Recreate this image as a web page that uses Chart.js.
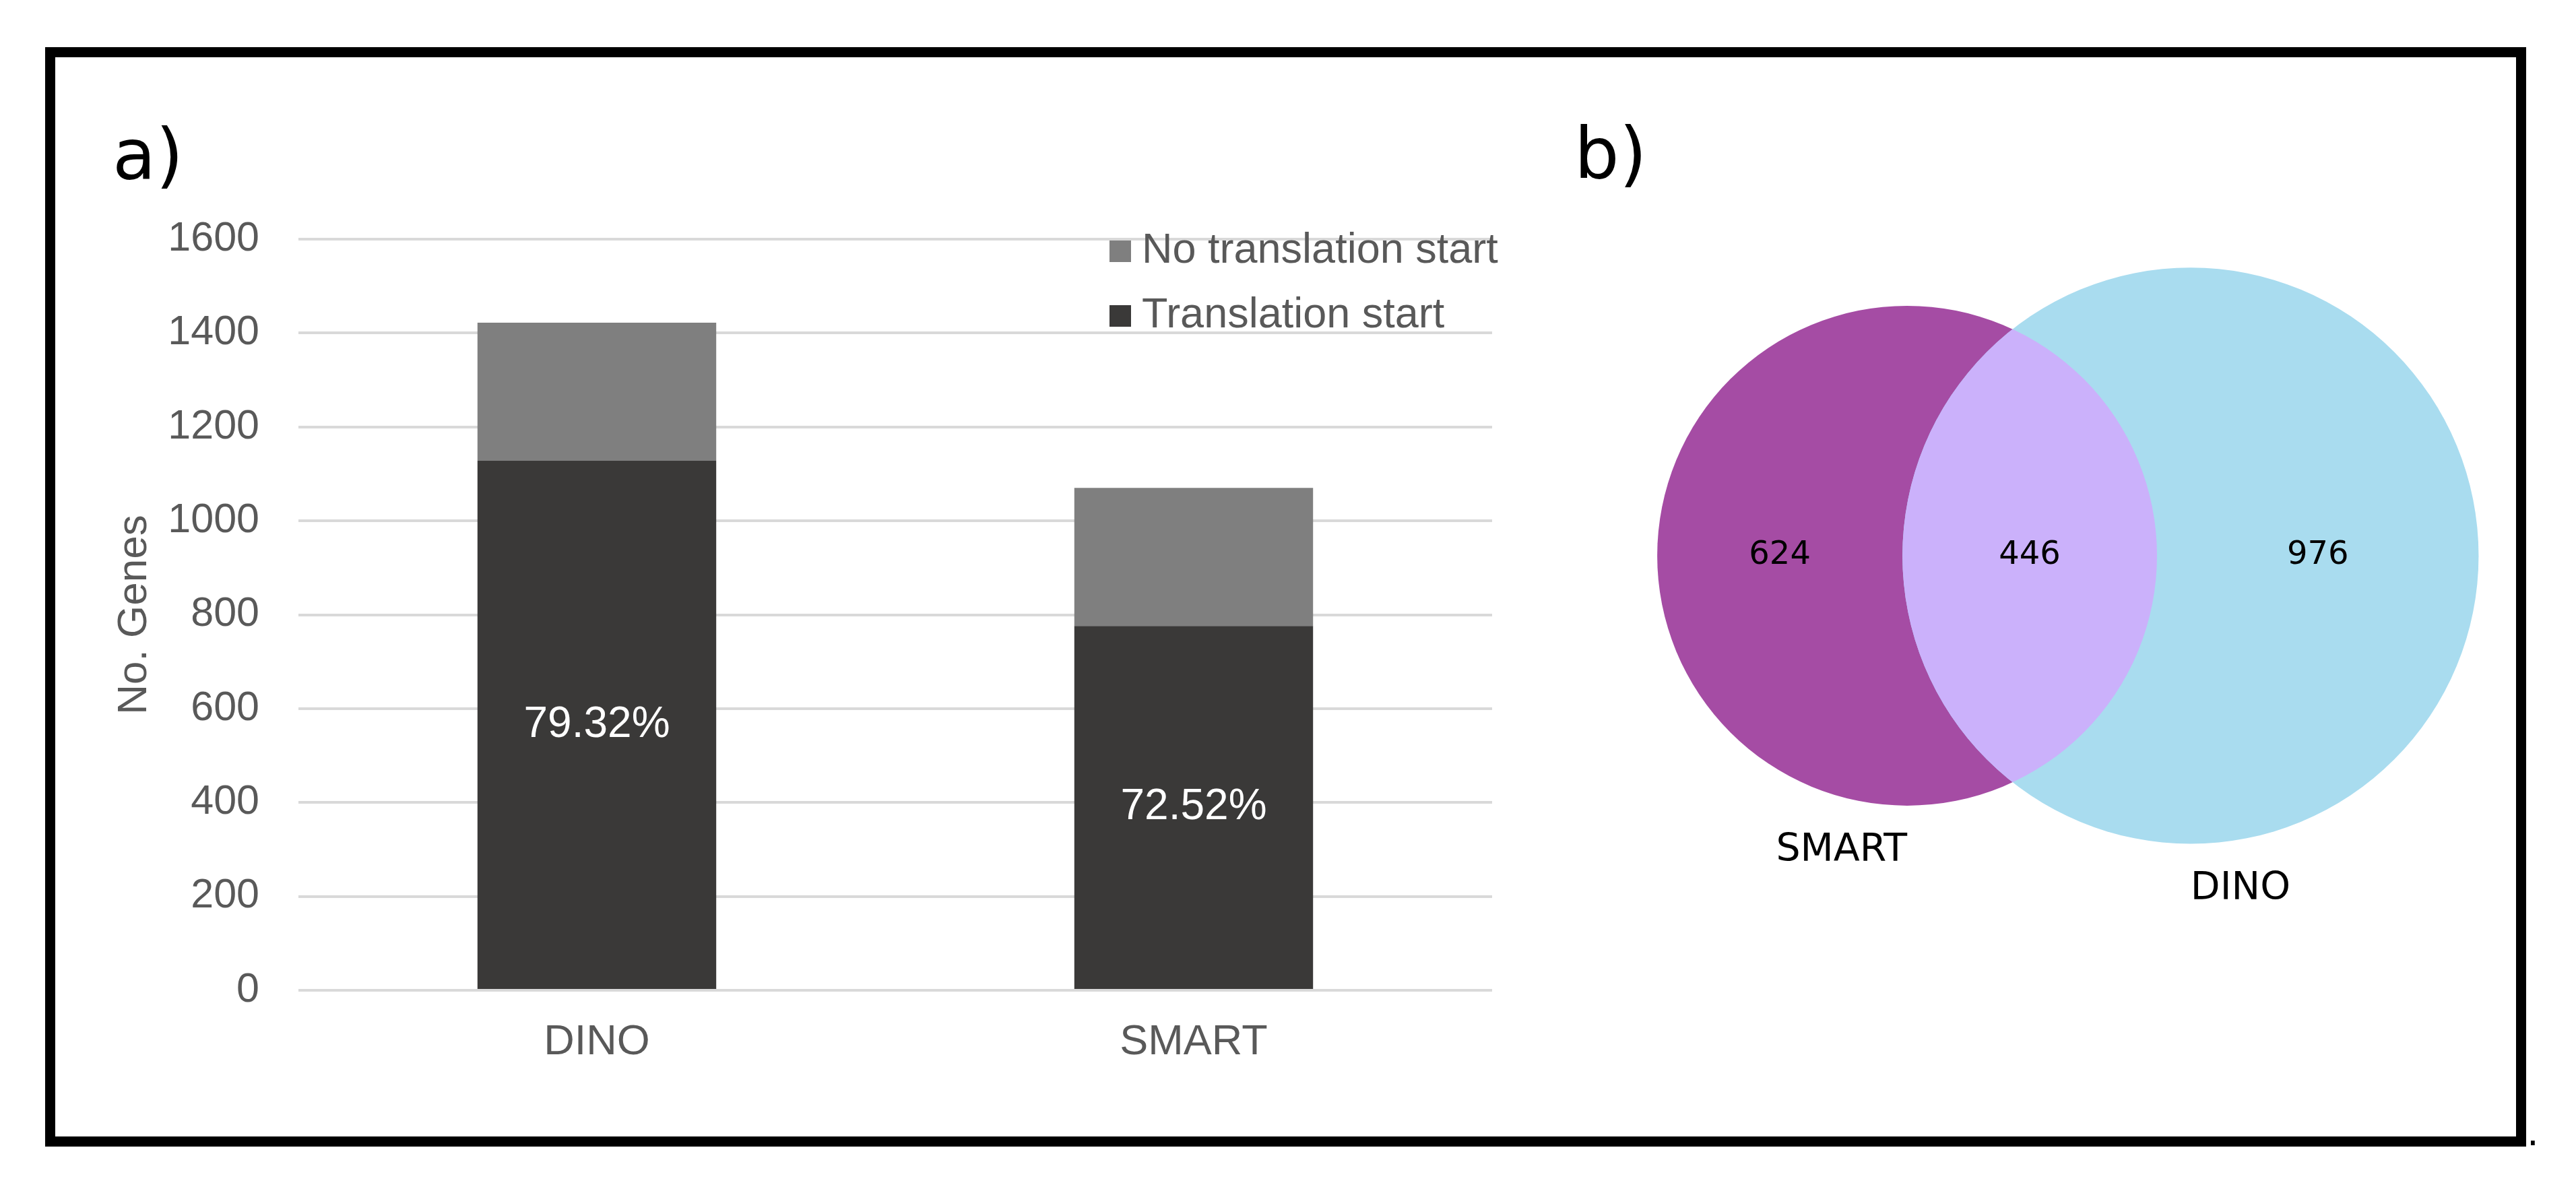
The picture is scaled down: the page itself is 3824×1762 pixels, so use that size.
<!DOCTYPE html>
<html>
<head>
<meta charset="utf-8">
<script src="https://cdn.jsdelivr.net/npm/chart.js@4.4.1/dist/chart.umd.min.js"></script>
<style>
  html, body { margin: 0; padding: 0; background: #fff; }
  body { width: 3824px; height: 1762px; position: relative; overflow: hidden; }
  #frame { position: absolute; left: 67px; top: 70px; width: 3683px; height: 1632px; border: 15px solid #000; box-sizing: border-box; }
  .panel { position: absolute; font-family: 'DejaVu Sans'; font-size: 105px; line-height: 1; color: #000; }
  canvas { position: absolute; top: 0; }
</style>
</head>
<body>
<div id="frame"></div>
<div class="panel" style="left:167px; top:178px;">a)</div>
<div class="panel" style="left:2337px; top:176px;">b)</div>
<div class="panel" style="left:3751px; top:1653px; font-size:56px;">.</div>
<canvas id="barChart" width="2300" height="1762" style="left:0px"></canvas>
<canvas id="vennChart" width="1440" height="1762" style="left:2300px"></canvas>
<script>
// Panel a) - genes with / without a translation start
const categories = ['DINO', 'SMART'];
const translationStart = [1128, 776];
const noTranslationStart = [294, 294];
const yTicks = [0, 200, 400, 600, 800, 1000, 1200, 1400, 1600];

// Panel b) - overlap of the two gene sets
const vennSetNames = ['SMART', 'DINO'];
const vennRegions = ['SMART only', 'SMART and DINO', 'DINO only'];
const vennCounts = [624, 446, 976];

const axisFont = '"Liberation Sans", Arial, sans-serif';
const greyText = '#595959';

// white percentage inside the dark part of each bar
const barLabels = {
    id: 'barLabels',
    afterDatasetsDraw(chart) {
        const ctx = chart.ctx;
        const meta = chart.getDatasetMeta(0);
        ctx.save();
        ctx.font = '64px ' + axisFont;
        ctx.fillStyle = '#ffffff';
        ctx.textAlign = 'center';
        ctx.textBaseline = 'middle';
        meta.data.forEach((bar, i) => {
            const total = translationStart[i] + noTranslationStart[i];
            const pct = (translationStart[i] / total * 100).toFixed(2) + '%';
            ctx.fillText(pct, bar.x, (bar.y + bar.base) / 2);
        });
        ctx.restore();
    }
};

// Excel-style legend, stacked top to bottom in reverse order
const sideLegend = {
    id: 'sideLegend',
    afterDraw(chart) {
        const ctx = chart.ctx;
        const sets = chart.data.datasets.slice().reverse();
        ctx.save();
        ctx.font = '63px ' + axisFont;
        ctx.textBaseline = 'alphabetic';
        ctx.textAlign = 'left';
        sets.forEach((ds, i) => {
            const top = 357 + i * 96;
            ctx.fillStyle = ds.backgroundColor;
            ctx.fillRect(1647, top, 32, 32);
            ctx.fillStyle = greyText;
            ctx.fillText(ds.label, 1695, top + 33);
        });
        ctx.restore();
    }
};

new Chart(document.getElementById('barChart'), {
    type: 'bar',
    data: {
        labels: categories,
        datasets: [
            {
                label: 'Translation start',
                data: translationStart,
                backgroundColor: '#3a3938',
                barPercentage: 0.4,
                categoryPercentage: 1.0
            },
            {
                label: 'No translation start',
                data: noTranslationStart,
                backgroundColor: '#7f7f7f',
                barPercentage: 0.4,
                categoryPercentage: 1.0
            }
        ]
    },
    options: {
        responsive: false,
        animation: false,
        events: [],
        layout: { padding: { left: 140, top: 355, right: 85, bottom: 142 } },
        plugins: { legend: { display: false }, tooltip: { enabled: false } },
        scales: {
            x: {
                stacked: true,
                grid: { display: false },
                border: { display: false },
                ticks: { color: greyText, font: { family: axisFont, size: 63 }, padding: 32 },
                afterFit: (s) => { s.height = 150; }
            },
            y: {
                stacked: true,
                min: yTicks[0],
                max: yTicks[yTicks.length - 1],
                grid: { color: '#d9d9d9', lineWidth: 4, drawTicks: false },
                border: { display: false },
                ticks: {
                    stepSize: yTicks[1] - yTicks[0],
                    color: greyText,
                    font: { family: axisFont, size: 61 },
                    padding: 58,
                    callback: (v) => String(v)
                },
                title: { display: true, text: 'No. Genes', color: greyText, font: { family: axisFont, size: 62, lineHeight: 1 }, padding: { top: 29, bottom: 0 } },
                afterFit: (s) => { s.width = 303; }
            }
        }
    },
    plugins: [barLabels, sideLegend]
});

// area-proportional circles, like matplotlib-venn
function lensArea(r1, r2, d) {
    if (d >= r1 + r2) return 0;
    const a1 = r1 * r1 * Math.acos((d * d + r1 * r1 - r2 * r2) / (2 * d * r1));
    const a2 = r2 * r2 * Math.acos((d * d + r2 * r2 - r1 * r1) / (2 * d * r2));
    const k = 0.5 * Math.sqrt((-d + r1 + r2) * (d + r1 - r2) * (d - r1 + r2) * (d + r1 + r2));
    return a1 + a2 - k;
}
const sizeA = vennCounts[0] + vennCounts[1];
const sizeB = vennCounts[2] + vennCounts[1];
const vennRadii = [Math.sqrt(sizeA / Math.PI), Math.sqrt(sizeB / Math.PI)];
let lo = Math.abs(vennRadii[0] - vennRadii[1]) + 1e-6, hi = vennRadii[0] + vennRadii[1];
for (let k = 0; k < 60; k++) {
    const mid = (lo + hi) / 2;
    if (lensArea(vennRadii[0], vennRadii[1], mid) > vennCounts[1]) lo = mid; else hi = mid;
}
const dist = (lo + hi) / 2;
const vennCenters = [0, dist];
const vennColors = ['#a54ca4', '#a9dcef'];

// circles, overlap and labels, placed with the chart's x/y scales
const vennDraw = {
    id: 'vennDraw',
    afterDatasetsDraw(chart) {
        const ctx = chart.ctx;
        const xs = chart.scales.x, ys = chart.scales.y;
        const px = (v) => xs.getPixelForValue(v);
        const py = (v) => ys.getPixelForValue(v);
        const circ = vennCenters.map((cx, i) => ({
            x: px(cx),
            y: py(0),
            r: px(vennRadii[i]) - px(0)
        }));

        ctx.save();
        circ.forEach((c, i) => {
            ctx.beginPath();
            ctx.arc(c.x, c.y, c.r, 0, Math.PI * 2);
            ctx.fillStyle = vennColors[i];
            ctx.fill();
        });
        // overlap region
        ctx.beginPath();
        ctx.arc(circ[0].x, circ[0].y, circ[0].r, 0, Math.PI * 2);
        ctx.clip();
        ctx.beginPath();
        ctx.arc(circ[1].x, circ[1].y, circ[1].r, 0, Math.PI * 2);
        ctx.fillStyle = '#cbb1fb';
        ctx.fill();
        ctx.restore();

        const rA = vennRadii[0], rB = vennRadii[1];
        const regionX = [
            (-rA + (dist - rB)) / 2,
            ((dist - rB) + rA) / 2,
            (rA + dist + rB) / 2
        ];
        ctx.save();
        ctx.fillStyle = '#000';
        ctx.font = '48px "DejaVu Sans"';
        ctx.textAlign = 'center';
        ctx.textBaseline = 'middle';
        vennCounts.forEach((c, i) => {
            ctx.fillText(String(c), px(regionX[i]), py(0));
        });
        ctx.font = '57px "DejaVu Sans"';
        ctx.textBaseline = 'alphabetic';
        ctx.textAlign = 'right';
        ctx.fillText(vennSetNames[0], px(vennCenters[0]), py(-rA) + 82);
        ctx.textAlign = 'left';
        ctx.fillText(vennSetNames[1], px(vennCenters[1]), py(-rB) + 82);
        ctx.restore();
    }
};

new Chart(document.getElementById('vennChart'), {
    type: 'bubble',
    data: {
        datasets: vennSetNames.map((name, i) => ({
            label: name,
            data: [{ x: vennCenters[i], y: 0 }],
            backgroundColor: vennColors[i],
            borderWidth: 0,
            radius: 0
        }))
    },
    options: {
        responsive: false,
        animation: false,
        events: [],
        layout: { padding: 0 },
        plugins: { legend: { display: false }, tooltip: { enabled: false } },
        scales: {
            x: { type: 'linear', display: false, min: -26.42, max: 45.22 },
            y: { type: 'linear', display: false, min: -46.62, max: 41.04 }
        }
    },
    plugins: [vennDraw]
});
</script>
</body>
</html>
